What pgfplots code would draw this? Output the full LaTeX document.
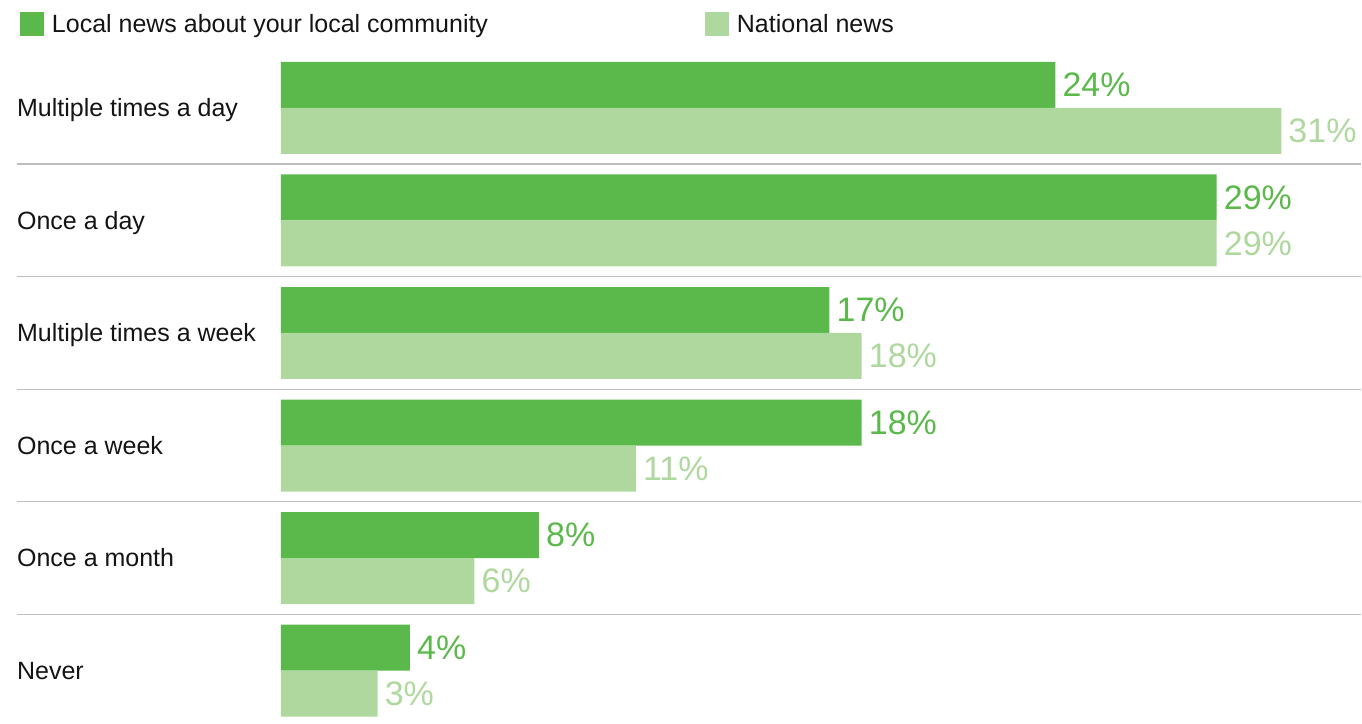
\documentclass[border=0pt]{standalone}
\usepackage{fontspec}
\setmainfont{Liberation Sans}
\usepackage{pgfplots}
\pgfplotsset{compat=1.18}
\definecolor{dg}{HTML}{5AB94A}
\definecolor{lg}{HTML}{AFD89E}
\definecolor{sepc}{HTML}{BDBDBD}
\definecolor{txt}{HTML}{141414}
\tikzset{catlab/.style={anchor=base west, inner sep=0pt, text=txt, font=\fontsize{25}{29}\selectfont, yshift=-8.8pt},
  sepline/.style={sepc, line width=1.4pt}}
\begin{document}
\begin{tikzpicture}
\begin{axis}[
  x=32.29pt, y=112.6pt,
  xmin=0, xmax=33.48, ymin=-0.4707, ymax=5.959,
  hide axis, clip=false,
  xbar, bar width=46pt,
  point meta=x,
  /pgf/number format/assume math mode=true,
  nodes near coords={\pgfmathprintnumber{\pgfplotspointmeta}\%},
  every node near coord/.append style={anchor=west, inner sep=0pt, xshift=7pt, font=\fontsize{34}{40}\selectfont},
  legend columns=2,
  legend image code/.code={\fill (0pt,-12pt) rectangle (24pt,12pt);},
  legend style={at={(-0.2414,0.9834)}, anchor=north west, draw=none, fill=none,
    inner sep=0pt, outer sep=0pt, font=\fontsize{25}{29}\selectfont, text=txt,
    /tikz/every odd column/.append style={column sep=8pt},
    /tikz/every even column/.append style={column sep=217pt},
    nodes={inner sep=0pt}},
]
\addplot[fill=dg, draw=none, bar shift=23pt, every node near coord/.append style={text=dg}]
  coordinates {(24,5) (29,4) (17,3) (18,2) (8,1) (4,0)};
\addplot[fill=lg, draw=none, bar shift=-23pt, every node near coord/.append style={text=lg}]
  coordinates {(31,5) (29,4) (18,3) (11,2) (6,1) (3,0)};
\legend{Local news about your local community, National news}
\draw[sepline] (axis cs:-8.176,4.5) -- (axis cs:33.48,4.5);
\draw[sepline] (axis cs:-8.176,3.5) -- (axis cs:33.48,3.5);
\draw[sepline] (axis cs:-8.176,2.5) -- (axis cs:33.48,2.5);
\draw[sepline] (axis cs:-8.176,1.5) -- (axis cs:33.48,1.5);
\draw[sepline] (axis cs:-8.176,0.5) -- (axis cs:33.48,0.5);
\node[catlab] at (axis cs:-8.176,5) {Multiple times a day};
\node[catlab] at (axis cs:-8.176,4) {Once a day};
\node[catlab] at (axis cs:-8.176,3) {Multiple times a week};
\node[catlab] at (axis cs:-8.176,2) {Once a week};
\node[catlab] at (axis cs:-8.176,1) {Once a month};
\node[catlab] at (axis cs:-8.176,0) {Never};
\path (axis cs:-8.702,-0.4707) rectangle (axis cs:33.48,5.959);
\end{axis}
\end{tikzpicture}
\end{document}
